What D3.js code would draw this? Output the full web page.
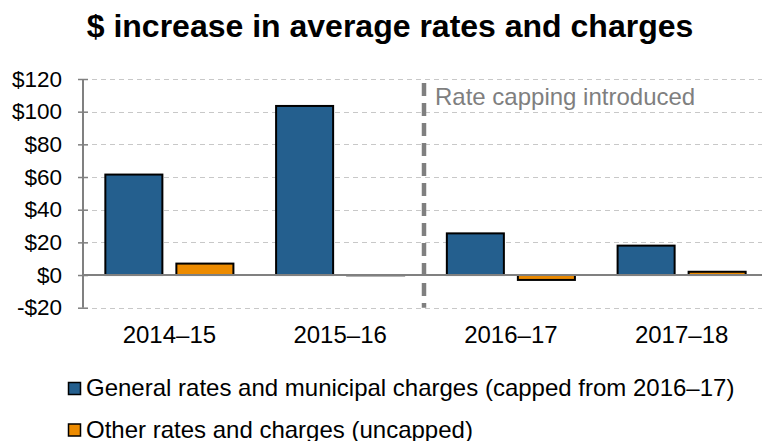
<html>
<head>
<style>
  body { margin: 0; background: #fff; }
  text { font-family: "Liberation Sans", Arial, sans-serif; }
</style>
</head>
<body>
<svg id="container" width="762" height="441"></svg>
<script src="https://cdn.jsdelivr.net/npm/d3@7"></script>
<script>
const categories = ["2014–15", "2015–16", "2016–17", "2017–18"]
const seriesNames = ["General rates and municipal charges (capped from 2016–17)", "Other rates and charges (uncapped)"]
const generalRates = [61.5, 103.5, 25.5, 18]
const otherRates = [7, -0.5, -3, 2]
const yTicks = [-20, 0, 20, 40, 60, 80, 100, 120]
const colors = ["#245f8e", "#ed8b00"]

let svg = d3.select("#container")

// the category bands run a little past the right edge, as in the original
let x = d3.scaleBand().domain(categories).range([84, 767]).paddingInner(0.25).paddingOuter(0.125)
let xSub = d3.scaleBand().domain([0, 1]).range([0, x.bandwidth()]).paddingInner(0.197)
let y = d3.scaleLinear().domain([-20, 120]).range([307.7, 79])

// gridlines
svg.append("g").selectAll("line")
    .data(yTicks)
    .enter().append("line")
    .attr("x1", 83).attr("x2", 762)
    .attr("y1", d => Math.round(y(d)) + 0.5).attr("y2", d => Math.round(y(d)) + 0.5)
    .attr("stroke", "#c8c8c8").attr("stroke-width", 1.2).attr("stroke-dasharray", "5,4")

// y axis
let yAxis = d3.axisLeft(y).tickValues(yTicks).tickSize(5)
    .tickFormat(d => (d < 0 ? "-$" : "$") + Math.abs(d))
let ya = svg.append("g").attr("transform", "translate(83,0)").call(yAxis)
    .attr("font-family", "'Liberation Sans', Arial, sans-serif")
ya.select(".domain").attr("stroke", "#808080").attr("stroke-width", 2)
    .attr("d", "M0," + y(120) + "V" + y(-20))
ya.selectAll(".tick line").attr("stroke", "#808080").attr("stroke-width", 1.5).attr("x1", -5).attr("x2", 5)
ya.selectAll(".tick text").attr("font-size", 22.5).attr("fill", "#000").attr("x", -21)

// bars
let groups = svg.append("g").selectAll("g")
    .data(categories)
    .enter().append("g")
    .attr("transform", d => "translate(" + x(d) + ",0)")

groups.selectAll("rect")
    .data((d, i) => [generalRates[i], otherRates[i]])
    .enter().append("rect")
    .attr("x", (d, j) => xSub(j))
    .attr("width", xSub.bandwidth())
    .attr("y", d => y(Math.max(0, d)))
    .attr("height", d => Math.abs(y(d) - y(0)))
    .attr("fill", (d, j) => Math.abs(d) < 1 ? "#a6a6a6" : colors[j])
    .attr("stroke", d => Math.abs(d) < 1 ? "#a6a6a6" : "#000")
    .attr("stroke-width", 2)

// zero line
svg.append("line")
    .attr("x1", 83).attr("x2", 762)
    .attr("y1", y(0)).attr("y2", y(0))
    .attr("stroke", "#808080").attr("stroke-width", 2)

// rate capping marker
let capX = (x("2015–16") + x.bandwidth() + x("2016–17")) / 2 - 1.5
svg.append("line")
    .attr("x1", capX).attr("x2", capX)
    .attr("y1", y(120) + 4).attr("y2", y(-20))
    .attr("stroke", "#7f7f7f").attr("stroke-width", 4.5).attr("stroke-dasharray", "13,7")
svg.append("text")
    .attr("x", capX + 11).attr("y", 105)
    .attr("font-size", 24).attr("fill", "#7f7f7f")
    .text("Rate capping introduced")

// x labels
svg.append("g").selectAll("text")
    .data(categories)
    .enter().append("text")
    .attr("x", d => x(d) + x.bandwidth() / 2)
    .attr("y", 343)
    .attr("text-anchor", "middle")
    .attr("font-size", 24)
    .text(d => d)

// title
svg.append("text")
    .attr("x", 390).attr("y", 37)
    .attr("text-anchor", "middle")
    .attr("font-size", 32).attr("font-weight", "bold")
    .text("$ increase in average rates and charges")

// legend
let legend = svg.append("g").selectAll("g")
    .data(seriesNames)
    .enter().append("g")
    .attr("transform", (d, i) => "translate(68," + (396 + i * 41.5) + ")")
legend.append("rect")
    .attr("x", 0.5).attr("y", -13.5).attr("width", 12).attr("height", 12)
    .attr("fill", (d, i) => colors[i]).attr("stroke", "#000").attr("stroke-width", 1.5)
legend.append("text")
    .attr("x", 18).attr("y", 0)
    .attr("font-size", 24)
    .text(d => d)
</script>
</body>
</html>
